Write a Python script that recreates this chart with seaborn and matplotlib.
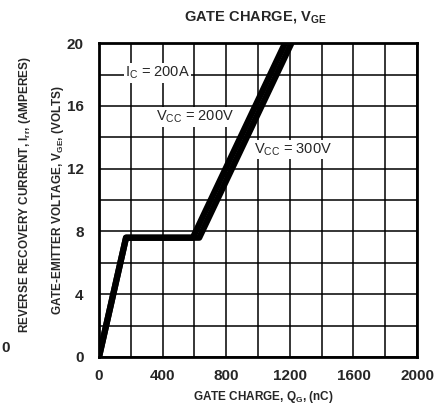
import numpy as np
import pandas as pd
import matplotlib
matplotlib.use("Agg")
import matplotlib.pyplot as plt
import seaborn as sns

# gate charge curves
qg_200 = [0, 170, 590, 1170]
vge_200 = [0, 7.6, 7.6, 20]
qg_300 = [0, 170, 630, 1210]
vge_300 = [0, 7.6, 7.6, 20]
xticks = [0, 400, 800, 1200, 1600, 2000]
yticks = [0, 4, 8, 12, 16, 20]

df = pd.concat([
    pd.DataFrame({"qg": qg_200, "vge": vge_200, "vcc": "200V"}),
    pd.DataFrame({"qg": qg_300, "vge": vge_300, "vcc": "300V"}),
])

sns.set_style("white")
plt.rcParams['font.family'] = ['Liberation Sans', 'DejaVu Sans']
plt.rcParams['mathtext.fontset'] = 'custom'
plt.rcParams['mathtext.rm'] = 'Liberation Sans'
plt.rcParams['mathtext.bf'] = 'Liberation Sans:bold'
plt.rcParams['mathtext.it'] = 'Liberation Sans'

fig = plt.figure(figsize=(4.48, 4.07), dpi=100)
ax = fig.add_axes([0.221, 0.123, 0.71, 0.771])

sns.lineplot(data=df, x="qg", y="vge", units="vcc", estimator=None,
             color="black", lw=4.5, sort=False, ax=ax, legend=False)

ax.set_xlim(0, 2000)
ax.set_ylim(0, 20)
ax.set_xticks(np.arange(0, 2001, 200), minor=True)
ax.set_yticks(np.arange(0, 21, 2), minor=True)
ax.set_xticks(xticks)
ax.set_yticks(yticks)
ax.set_xticklabels([str(t) for t in xticks], fontsize=11, fontweight="bold")
ax.set_yticklabels([str(t) for t in yticks], fontsize=11, fontweight="bold")
ax.grid(True, which="both", color="black", lw=1.1)
ax.tick_params(which="both", length=0)
ax.tick_params(axis="x", pad=9)
ax.tick_params(axis="y", pad=11)
for s in ax.spines.values():
    s.set_linewidth(2)
    s.set_color("black")
ax.set_xlabel("")
ax.set_ylabel("")

fig.text(263 / 448, 1 - 397 / 407, r"GATE CHARGE, Q$_\mathbf{G}$, (nC)",
         fontsize=8.5, fontweight="bold", ha="center", va="center")
fig.text(255 / 448, 1 - 17 / 407, r"GATE CHARGE, V$_\mathbf{GE}$",
         fontsize=10.5, fontweight="bold", ha="center", va="center")
fig.text(58 / 448, 1 - 200 / 407, r"GATE-EMITTER VOLTAGE, V$_\mathbf{GE}$, (VOLTS)",
         rotation=90, fontsize=8.5, fontweight="bold", ha="center", va="center")
fig.text(25 / 448, 1 - 195 / 407, r"REVERSE RECOVERY CURRENT, I$_\mathbf{rr}$, (AMPERES)",
         rotation=90, fontsize=8.5, fontweight="bold", ha="center", va="center")
fig.text(0.003, 1 - 348 / 407, "0", fontsize=11, fontweight="bold", ha="left", va="center")

box = dict(facecolor="white", edgecolor="none", pad=1)
ax.text(368, 18.1, r"I$_\mathrm{C}$ = 200A", fontsize=10.5, ha="center", va="center", bbox=box)
ax.text(604, 15.3, r"V$_\mathrm{CC}$ = 200V", fontsize=10.5, ha="center", va="center", bbox=box)
ax.text(1220, 13.2, r"V$_\mathrm{CC}$ = 300V", fontsize=10.5, ha="center", va="center", bbox=box)

fig.savefig("out.png", dpi=100)
